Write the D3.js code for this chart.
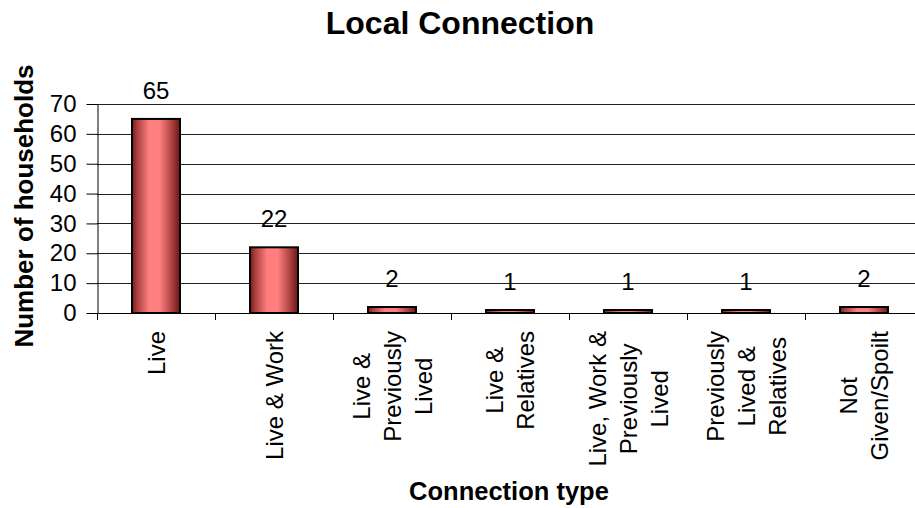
<!DOCTYPE html>
<html>
<head>
<meta charset="utf-8">
<script src="https://cdn.jsdelivr.net/npm/d3@7"></script>
<style>
  html, body { margin: 0; padding: 0; background: #fff; }
  svg { display: block; font-family: Arial, "Liberation Sans", sans-serif; }
</style>
</head>
<body>
<svg id="chart" width="915" height="508"></svg>
<script>
// Households by type of local connection
const categories = [
  ["Live"],
  ["Live & Work"],
  ["Live &", "Previously", "Lived"],
  ["Live &", "Relatives"],
  ["Live, Work &", "Previously", "Lived"],
  ["Previously", "Lived &", "Relatives"],
  ["Not", "Given/Spoilt"]
];
const households = [65, 22, 2, 1, 1, 1, 2];
const yTicks = [0, 10, 20, 30, 40, 50, 60, 70];

const svg = d3.select("#chart");
const plot = { left: 97, top: 104, bottom: 313, right: 97 + 7 * 118 };

const x = d3.scaleBand()
  .domain(d3.range(categories.length))
  .range([plot.left, plot.right])
  .paddingInner(0).paddingOuter(0);

const y = d3.scaleLinear().domain([0, 70]).range([plot.bottom, plot.top]);

// bar fill: dark edges, light centre
const defs = svg.append("defs");
const grad = defs.append("linearGradient").attr("id", "barGrad")
  .attr("x1", "0%").attr("x2", "100%").attr("y1", "0%").attr("y2", "0%");
[["0%", "#7a1c1c"], ["10%", "#a83c3c"], ["36%", "#ff7f7f"], ["58%", "#ff7f7f"],
 ["82%", "#b04444"], ["100%", "#6e1414"]]
  .forEach(([o, c]) => grad.append("stop").attr("offset", o).attr("stop-color", c));

// title
svg.append("text")
  .attr("x", 460).attr("y", 34)
  .attr("text-anchor", "middle")
  .style("font-size", "32px").style("font-weight", "bold")
  .text("Local Connection");

// horizontal gridlines
svg.append("g")
  .selectAll("line")
  .data(yTicks.filter(d => d > 0))
  .join("line")
  .attr("x1", plot.left).attr("x2", plot.right)
  .attr("y1", d => Math.round(y(d)) + 0.5).attr("y2", d => Math.round(y(d)) + 0.5)
  .attr("stroke", "#222").attr("stroke-width", 1);

// y axis
const yAxis = svg.append("g")
  .attr("transform", `translate(${plot.left + 0.5},0)`)
  .call(d3.axisLeft(y).tickValues(yTicks).tickSize(11).tickPadding(10).tickSizeOuter(0));
yAxis.select(".domain").attr("stroke", "#000");
yAxis.selectAll(".tick line").attr("stroke", "#000");
yAxis.selectAll(".tick text")
  .style("font-size", "24px").style("font-family", "Arial, 'Liberation Sans', sans-serif")
  .attr("fill", "#000");

// bars
const barW = 48;
svg.append("g")
  .selectAll("rect")
  .data(households)
  .join("rect")
  .attr("x", (d, i) => x(i) + x.bandwidth() / 2 - barW / 2)
  .attr("y", d => y(d))
  .attr("width", barW)
  .attr("height", d => y(0) - y(d))
  .attr("fill", "url(#barGrad)")
  .attr("stroke", "#000").attr("stroke-width", 2);

// x axis line and category ticks
svg.append("line")
  .attr("x1", plot.left).attr("x2", plot.right)
  .attr("y1", plot.bottom + 0.5).attr("y2", plot.bottom + 0.5)
  .attr("stroke", "#000");
svg.append("g")
  .selectAll("line")
  .data(d3.range(categories.length + 1))
  .join("line")
  .attr("x1", i => Math.round(plot.left + i * x.step()) + 0.5)
  .attr("x2", i => Math.round(plot.left + i * x.step()) + 0.5)
  .attr("y1", plot.bottom).attr("y2", plot.bottom + 7)
  .attr("stroke", "#000");

// value labels
svg.append("g")
  .selectAll("text")
  .data(households)
  .join("text")
  .attr("x", (d, i) => x(i) + x.bandwidth() / 2)
  .attr("y", d => y(d) - 20)
  .attr("text-anchor", "middle")
  .style("font-size", "24px")
  .text(d => d);

// rotated category labels, lines centred on each other
const lineGap = 31;
const labelTop = 331;
const catG = svg.append("g");
categories.forEach((lines, i) => {
  const cx = x(i) + x.bandwidth() / 2;
  const g = catG.append("g");
  const texts = lines.map(ln => g.append("text")
    .style("font-size", "24px")
    .attr("text-anchor", "middle")
    .text(ln));
  const maxLen = d3.max(texts, t => t.node().getComputedTextLength());
  const cy = labelTop + maxLen / 2;
  const n = lines.length;
  texts.forEach((t, k) => {
    const baseX = cx + 8.5 + (k - (n - 1) / 2) * lineGap;
    t.attr("transform", `translate(${baseX},${cy}) rotate(-90)`);
  });
});

// axis titles
svg.append("text")
  .attr("transform", `translate(33,206) rotate(-90)`)
  .attr("text-anchor", "middle")
  .style("font-size", "26px").style("font-weight", "bold")
  .text("Number of households");

svg.append("text")
  .attr("x", 509).attr("y", 500)
  .attr("text-anchor", "middle")
  .style("font-size", "25.5px").style("font-weight", "bold")
  .text("Connection type");
</script>
</body>
</html>
